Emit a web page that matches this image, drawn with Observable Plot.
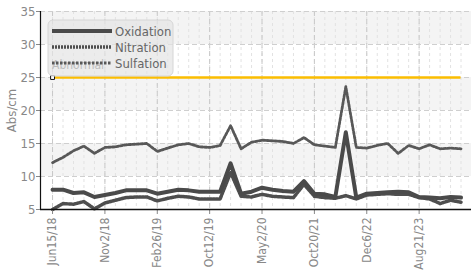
<!DOCTYPE html>
<html>
<head>
<meta charset="utf-8">
<script src="https://cdn.jsdelivr.net/npm/d3@7"></script>
<script src="https://cdn.jsdelivr.net/npm/@observablehq/plot@0.6"></script>
<style>
  html, body { margin: 0; padding: 0; background: #fff; }
  #chart svg { display: block; }
</style>
</head>
<body>
<div id="chart"></div>
<script>
// ---- data (sample index -> value, Abs/cm) ----
const sampleIndex = [0,1,2,3,4,5,6,7,8,9,10,11,12,13,14,15,16,17,18,19,20,21,22,23,24,25,26,27,28,29,30,31,32,33,34,35,36,37,38,39];
const oxidation = [8.0,8.0,7.5,7.6,6.9,7.2,7.5,7.9,7.9,7.9,7.4,7.7,8.0,7.9,7.7,7.7,7.7,12.0,7.4,7.7,8.3,8.0,7.8,7.7,9.3,7.4,7.3,6.9,16.7,6.8,7.4,7.5,7.6,7.7,7.6,6.9,6.8,6.7,6.9,6.8];
const nitration = [5.0,5.9,5.8,6.2,5.1,6.0,6.4,6.8,6.9,6.9,6.3,6.7,7.0,6.9,6.6,6.6,6.6,10.6,7.0,6.9,7.3,7.0,6.9,6.8,8.8,7.0,6.8,6.7,7.1,6.6,7.2,7.3,7.4,7.3,7.3,6.8,6.6,5.9,6.4,6.1];
const sulfation = [12.1,12.9,13.9,14.6,13.5,14.4,14.5,14.8,14.9,15.0,13.8,14.3,14.8,15.0,14.5,14.4,14.7,17.7,14.2,15.2,15.5,15.4,15.3,15.0,15.9,14.8,14.6,14.4,23.6,14.4,14.3,14.7,15.0,13.5,14.7,14.2,14.8,14.2,14.3,14.2];
const tickIndex = [0,5,10,15,20,25,30,35];
const tickLabels = ["Jun15/18","Nov2/18","Feb26/19","Oct12/19","May2/20","Oct20/21","Dec6/22","Aug21/23"];
const yTicks = [5,10,15,20,25,30,35];
const abnormalLimit = 25;
const abnormalLabel = "Abnormal";
const seriesNames = ["Oxidation","Nitration","Sulfation"];
const bandLo = [10,20,30];
const bandHi = [15,25,35];

// ---- tidy rows ----
const rows = [];
sampleIndex.forEach((i, k) => {
  rows.push({i, v: oxidation[k], s: "Oxidation"});
  rows.push({i, v: nitration[k], s: "Nitration"});
  rows.push({i, v: sulfation[k], s: "Sulfation"});
});
const bands = bandLo.map((lo, k) => ({lo, hi: bandHi[k]}));
const labelOf = new Map(tickIndex.map((t, k) => [t, tickLabels[k]]));

const FONT = "'DejaVu Sans Condensed', 'DejaVu Sans', sans-serif";
const styleOf = {
  Oxidation: {stroke: "#4a4a4a", strokeWidth: 4, dash: null},
  Nitration: {stroke: "#4e4e4e", strokeWidth: 3.5, dash: "2,1"},
  Sulfation: {stroke: "#585858", strokeWidth: 2.8, dash: "2.5,1.5"}
};

const chart = Plot.plot({
  width: 471,
  height: 277,
  marginLeft: 40,
  marginRight: 0,
  marginTop: 11,
  marginBottom: 68,
  style: {fontFamily: FONT, fontSize: "12px", color: "#777", background: "white", overflow: "visible"},
  x: {type: "linear", domain: [-1.15, 40.0]},
  y: {domain: [5, 35]},
  marks: [
    Plot.rect(bands, {y1: "lo", y2: "hi", fill: "#f4f4f4"}),
    Plot.ruleX(sampleIndex, {stroke: "#e2e2e2", strokeDasharray: "3,3"}),
    Plot.ruleX(tickIndex, {stroke: "#c8c8c8", strokeDasharray: "5,3"}),
    Plot.ruleY(yTicks.slice(1), {stroke: "#cfcfcf", strokeDasharray: "5,3"}),
    Plot.ruleY([abnormalLimit], {x1: sampleIndex[0], x2: sampleIndex[sampleIndex.length - 1], stroke: "#fbbd00", strokeWidth: 2.5}),
    Plot.dot([abnormalLimit], {x: sampleIndex[0], y: d => d, symbol: "square", r: 2.2, fill: "white", stroke: "#111", strokeWidth: 1}),
    Plot.lineY(rows.filter(d => d.s === "Sulfation"), {x: "i", y: "v", stroke: styleOf.Sulfation.stroke, strokeWidth: styleOf.Sulfation.strokeWidth, strokeDasharray: styleOf.Sulfation.dash, strokeLinejoin: "round"}),
    Plot.lineY(rows.filter(d => d.s === "Nitration"), {x: "i", y: "v", stroke: styleOf.Nitration.stroke, strokeWidth: styleOf.Nitration.strokeWidth, strokeDasharray: styleOf.Nitration.dash, strokeLinejoin: "round"}),
    Plot.lineY(rows.filter(d => d.s === "Oxidation"), {x: "i", y: "v", stroke: styleOf.Oxidation.stroke, strokeWidth: styleOf.Oxidation.strokeWidth, strokeLinejoin: "round"}),
    Plot.axisY({ticks: yTicks, tickSize: 4, tickPadding: 1, fontSize: 13, label: "Abs/cm", labelAnchor: "center", labelArrow: "none", labelOffset: 34, color: "#888"}),
    Plot.axisX({ticks: tickIndex, tickFormat: d => labelOf.get(d), tickRotate: -90, tickSize: 5, tickPadding: 3, fontSize: 12, label: null, color: "#888"}),
    Plot.ruleX([-1.15], {stroke: "#111", strokeWidth: 1.2}),
    Plot.ruleY([5], {stroke: "#111", strokeWidth: 1.5})
  ]
});

document.getElementById("chart").appendChild(chart);

// ---- legend overlay (drawn in SVG, on top of plot) ----
const svg = d3.select(chart);
const lg = svg.append("g").attr("font-family", FONT).attr("text-anchor", "start");
lg.append("rect")
  .attr("x", 48).attr("y", 20).attr("width", 125).attr("height", 56)
  .attr("rx", 5)
  .attr("fill", "#e4e4e4").attr("fill-opacity", 0.7)
  .attr("stroke", "#d6d6d6");
// "Abnormal" limit label sits in the legend area, showing through it
lg.append("text")
  .attr("x", 52).attr("y", 69)
  .attr("font-size", 12).attr("fill", "#bcbcbc")
  .text(abnormalLabel);
seriesNames.forEach((name, k) => {
  const y = 31 + k * 16;
  const st = styleOf[name];
  lg.append("line")
    .attr("x1", 52).attr("x2", 112).attr("y1", y).attr("y2", y)
    .attr("stroke", st.stroke).attr("stroke-width", st.strokeWidth)
    .attr("stroke-dasharray", st.dash);
  lg.append("text")
    .attr("x", 115).attr("y", y).attr("dy", "0.35em")
    .attr("font-size", 13).attr("fill", "#666")
    .text(name);
});
</script>
</body>
</html>
